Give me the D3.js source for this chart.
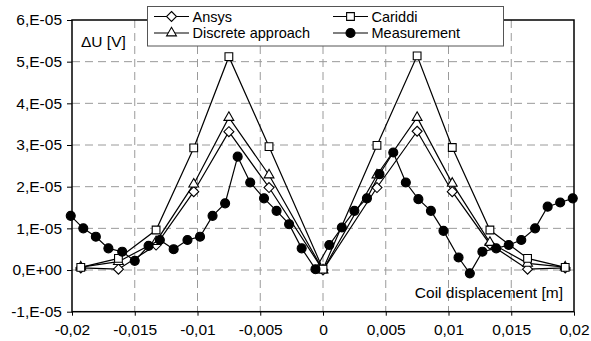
<!DOCTYPE html>
<html>
<head>
<meta charset="utf-8">
<script src="https://cdn.jsdelivr.net/npm/d3@7"></script>
<style>
  body { margin: 0; background: #fff; }
  text { font-family: "Liberation Sans", Arial, sans-serif; }
</style>
</head>
<body>
<div id="chart"></div>
<script>
// simulated points (coil displacement in m, dU in 1E-05 V)
const simX = [-0.0193, -0.0163, -0.0133, -0.0103, -0.0075, -0.0043, 0, 0.0043, 0.0075, 0.0103, 0.0133, 0.0163, 0.0193];
const ansys = [0.05, 0.02, 0.6, 1.88, 3.32, 1.98, 0, 1.98, 3.33, 1.88, 0.62, 0.02, 0.05];
const discrete = [0.07, 0.2, 0.68, 2.06, 3.66, 2.28, 0, 2.28, 3.66, 2.08, 0.66, 0.16, 0.07];
const cariddi = [0.065, 0.28, 0.96, 2.93, 5.12, 2.96, 0.02, 2.99, 5.14, 2.94, 0.96, 0.28, 0.065];

const measX = [-0.0201, -0.0191, -0.0181, -0.0171, -0.016, -0.015, -0.0139, -0.013, -0.0119, -0.0108,
  -0.0098, -0.0088, -0.0078, -0.0068, -0.0058, -0.0047, -0.0037, -0.0027, -0.0017, -0.0006,
  0.0005, 0.0015, 0.0025, 0.0035, 0.0045, 0.0056, 0.0066, 0.0076, 0.0086, 0.0096,
  0.0108, 0.0117, 0.0127, 0.0138, 0.0148, 0.0158, 0.0169, 0.0179, 0.0189, 0.0199];
const measurement = [1.3, 1.0, 0.8, 0.52, 0.44, 0.22, 0.58, 0.72, 0.5, 0.72,
  0.8, 1.3, 1.6, 2.72, 2.1, 1.72, 1.42, 1.1, 0.52, 0.02,
  0.6, 1.02, 1.42, 1.72, 2.3, 2.82, 2.1, 1.7, 1.42, 0.94,
  0.3, -0.08, 0.44, 0.52, 0.6, 0.72, 1.0, 1.52, 1.62, 1.72];

const xTicks = [-0.02, -0.015, -0.01, -0.005, 0, 0.005, 0.01, 0.015, 0.02];
const xTickLabels = ['-0,02', '-0,015', '-0,01', '-0,005', '0', '0,005', '0,01', '0,015', '0,02'];
const yTicks = [-1, 0, 1, 2, 3, 4, 5, 6];
const yTickLabels = ['-1,E-05', '0,E+00', '1,E-05', '2,E-05', '3,E-05', '4,E-05', '5,E-05', '6,E-05'];

const width = 591, height = 341;
const margin = { top: 20, right: 17, bottom: 29.3, left: 72 };
const fs = '15.5px';

const svg = d3.select('#chart').append('svg')
  .attr('width', width)
  .attr('height', height);

const x = d3.scaleLinear().domain([-0.02, 0.02]).range([margin.left, width - margin.right]);
const y = d3.scaleLinear().domain([-1, 6]).range([height - margin.bottom, margin.top]);

// grid
svg.append('g')
  .selectAll('line')
  .data(xTicks.slice(1, -1))
  .enter().append('line')
  .attr('x1', d => x(d)).attr('x2', d => x(d))
  .attr('y1', y(6)).attr('y2', y(-1))
  .attr('stroke', '#9a9a9a').attr('stroke-width', 1)
  .attr('stroke-dasharray', '8,5');

svg.append('g')
  .selectAll('line')
  .data(yTicks.slice(1, -1))
  .enter().append('line')
  .attr('x1', x(-0.02)).attr('x2', x(0.02))
  .attr('y1', d => y(d)).attr('y2', d => y(d))
  .attr('stroke', '#9a9a9a').attr('stroke-width', 1)
  .attr('stroke-dasharray', '8,5');

// frame
svg.append('rect')
  .attr('x', x(-0.02)).attr('y', y(6))
  .attr('width', x(0.02) - x(-0.02)).attr('height', y(-1) - y(6))
  .attr('fill', 'none').attr('stroke', '#000').attr('stroke-width', 1.5);

// axes
const xAxis = svg.append('g')
  .attr('transform', `translate(0,${y(-1)})`)
  .call(d3.axisBottom(x).tickValues(xTicks).tickSize(4).tickFormat((d, i) => xTickLabels[i]));
xAxis.select('.domain').remove();
xAxis.selectAll('line').attr('stroke', '#000');
xAxis.selectAll('text').attr('font-size', fs).attr('fill', '#000').attr('dy', '1.05em');

const yAxis = svg.append('g')
  .attr('transform', `translate(${x(-0.02)},0)`)
  .call(d3.axisLeft(y).tickValues(yTicks).tickSize(5).tickFormat((d, i) => yTickLabels[i]));
yAxis.select('.domain').remove();
yAxis.selectAll('line').attr('stroke', '#000');
yAxis.selectAll('text').attr('font-size', fs).attr('fill', '#000').attr('x', -10);

// axis titles
svg.append('text')
  .attr('x', 81).attr('y', 47)
  .attr('font-size', fs)
  .text('\u0394U [V]');

svg.append('text')
  .attr('x', 563).attr('y', 298)
  .attr('text-anchor', 'end')
  .attr('font-size', fs)
  .text('Coil displacement [m]');

// symbols
const diamond = {
  draw(ctx, size) {
    const r = Math.sqrt(size / 2);
    ctx.moveTo(0, -r); ctx.lineTo(r, 0); ctx.lineTo(0, r); ctx.lineTo(-r, 0); ctx.closePath();
  }
};

const series = [
  { name: 'Ansys', xs: simX, ys: ansys, sym: diamond, size: 50, fill: '#fff' },
  { name: 'Discrete approach', xs: simX, ys: discrete, sym: d3.symbolTriangle, size: 42, fill: '#fff' },
  { name: 'Cariddi', xs: simX, ys: cariddi, sym: d3.symbolSquare, size: 60, fill: '#fff' },
  { name: 'Measurement', xs: measX, ys: measurement, sym: d3.symbolCircle, size: 64, fill: '#000' }
];

const line = d3.line().x(d => x(d[0])).y(d => y(d[1]));

series.forEach(s => {
  const pts = s.xs.map((v, i) => [v, s.ys[i]]);
  const g = svg.append('g');
  g.append('path')
    .attr('d', line(pts))
    .attr('fill', 'none').attr('stroke', '#000').attr('stroke-width', 1.2);
  g.selectAll('path.m')
    .data(pts)
    .enter().append('path')
    .attr('class', 'm')
    .attr('transform', d => `translate(${x(d[0])},${y(d[1])})`)
    .attr('d', d3.symbol().type(s.sym).size(s.size))
    .attr('fill', s.fill).attr('stroke', '#000').attr('stroke-width', 1.1);
});

// legend
const lg = svg.append('g');
lg.append('rect')
  .attr('x', 147.5).attr('y', 6.5).attr('width', 356).attr('height', 39.5)
  .attr('fill', '#fff').attr('stroke', '#555').attr('stroke-width', 1);

const legendPos = [[154, 16.5], [154, 33], [333, 16.5], [333, 33]];
series.forEach((s, i) => {
  const [lx, ly] = legendPos[i];
  lg.append('line')
    .attr('x1', lx).attr('x2', lx + 35).attr('y1', ly).attr('y2', ly)
    .attr('stroke', '#000').attr('stroke-width', 1.2);
  lg.append('path')
    .attr('transform', `translate(${lx + 17.5},${ly})`)
    .attr('d', d3.symbol().type(s.sym).size(s.size))
    .attr('fill', s.fill).attr('stroke', '#000').attr('stroke-width', 1.1);
  lg.append('text')
    .attr('x', lx + 38.5).attr('y', ly + 5)
    .attr('font-size', '14.5px')
    .text(s.name);
});
</script>
</body>
</html>
